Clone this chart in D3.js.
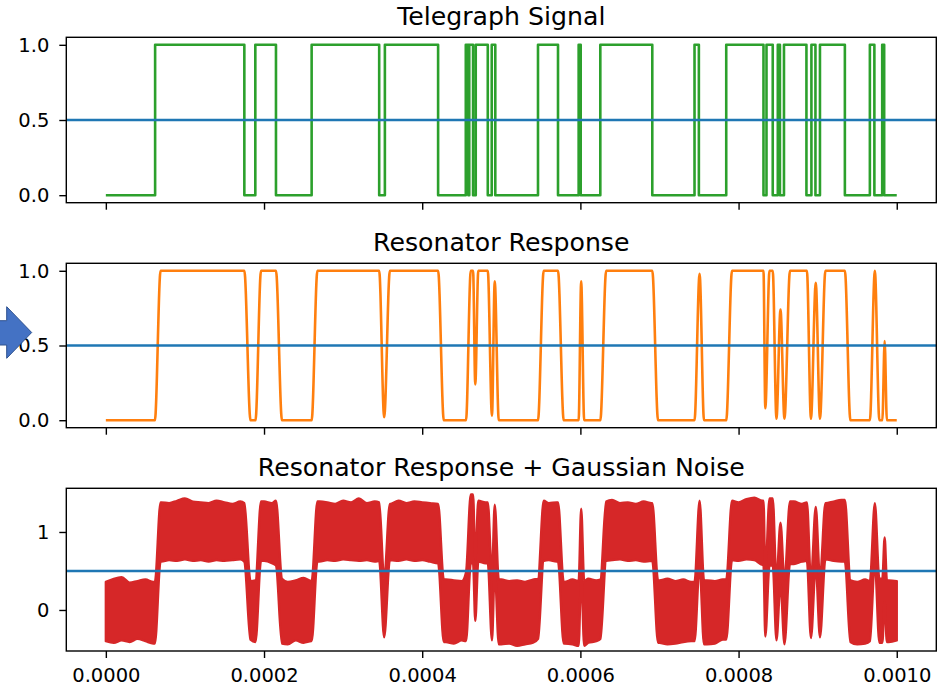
<!DOCTYPE html>
<html><head><meta charset="utf-8">
<script src="https://cdn.jsdelivr.net/npm/d3@7"></script>
<style>
html,body{margin:0;padding:0;background:#fff;}
svg{display:block;font-family:"DejaVu Sans",sans-serif;}
</style></head><body>
<svg id="chart" width="944" height="686"></svg>
<script>
// Telegraph signal: switching instants (µs) and the level held from each instant on
const telegraphTimes = [0, 62.3, 175.1, 189.0, 215.1, 260.2, 345.6, 352.8, 420.1, 455.1, 458.3, 459.5, 464.3, 467.7, 482.9, 487.9, 492.4, 546.4, 571.7, 597.8, 600.4, 625.2, 690.9, 744.3, 749.8, 784.4, 831.5, 835.3, 843.2, 849.6, 852.3, 857.4, 885.8, 892.1, 897.2, 902.9, 934.4, 966.0, 971.7, 981.6, 984.1, 1000];
const telegraphStates = [0,1,0,1,0,1,0,1,0,1,0,1,0,1,0,1,0,1,0,1,0,1,0,1,0,1,0,1,0,1,0,1,0,1,0,1,0,1,0,1,0,0];

// Resonator response: turning points of the smoothed signal (µs, amplitude)
const responseTimes = [0, 62.0, 69.2, 175.1, 182.9, 189.2, 196.2, 215.1, 222.7, 260.2, 267.5, 345.6, 351.9, 359.1, 420.1, 427.3, 455.4, 461.4, 464.3, 467.1, 470.9, 482.9, 488.2, 491.7, 496.8, 546.4, 553.6, 571.7, 578.9, 597.8, 601.0, 604.8, 625.2, 632.6, 690.9, 698.2, 744.3, 750.7, 756.3, 784.4, 791.7, 831.5, 833.8, 839.1, 843.2, 847.9, 853.0, 858.0, 865.0, 886.4, 891.5, 897.6, 902.9, 909.8, 934.4, 941.4, 966.0, 972.3, 978.0, 981.8, 984.7, 987.5, 1000];
const responseValues = [0, 0, 1, 1, 0, 0, 1, 1, 0, 0, 1, 1, 0.02, 1, 1, 0, 0, 1, 1, 0.24, 1, 1, 0.03, 0.93, 0, 0, 1, 1, 0, 0, 0.93, 0, 0, 1, 1, 0, 0, 0.98, 0, 0, 1, 1, 0.08, 1, 1, 0.01, 0.74, 0.01, 1, 1, 0.01, 0.92, 0.01, 1, 1, 0, 0, 1.0, 0, 0, 0.53, 0, 0];

// Gaussian noise envelope around the response, every 10 µs (spread above / below)
const noiseStep = 10;
const noiseAbove = [
  0.36,0.40,0.42,0.35,0.37,0.39,0.36,0.38,0.37,0.40,
  0.43,0.39,0.38,0.37,0.40,0.38,0.36,0.39,0.37,0.38,
  0.39,0.37,0.40,0.36,0.38,0.41,0.37,0.39,0.38,0.36,
  0.40,0.38,0.43,0.37,0.39,0.38,0.36,0.40,0.37,0.39,
  0.38,0.37,0.36,0.39,0.38,0.37,0.48,0.40,0.38,0.42,
  0.39,0.37,0.38,0.36,0.39,0.40,0.37,0.38,0.36,0.39,
  0.37,0.40,0.38,0.39,0.41,0.37,0.38,0.36,0.39,0.37,
  0.38,0.40,0.37,0.39,0.36,0.42,0.38,0.37,0.39,0.40,
  0.38,0.42,0.44,0.40,0.43,0.38,0.37,0.39,0.36,0.38,
  0.40,0.37,0.39,0.41,0.38,0.36,0.39,0.37,0.40,0.38,
  0.37];
const noiseBelow = [
  0.40,0.42,0.39,0.41,0.37,0.40,0.43,0.38,0.36,0.37,
  0.35,0.37,0.36,0.38,0.36,0.37,0.36,0.35,0.38,0.41,
  0.37,0.40,0.43,0.44,0.39,0.42,0.40,0.38,0.36,0.37,
  0.35,0.36,0.37,0.36,0.38,0.37,0.36,0.37,0.35,0.37,
  0.36,0.38,0.40,0.41,0.43,0.39,0.40,0.38,0.40,0.42,
  0.44,0.43,0.46,0.44,0.42,0.37,0.36,0.38,0.43,0.44,
  0.46,0.42,0.40,0.37,0.36,0.35,0.37,0.36,0.38,0.37,
  0.42,0.44,0.43,0.41,0.40,0.42,0.44,0.43,0.38,0.36,
  0.37,0.35,0.36,0.42,0.43,0.40,0.45,0.41,0.38,0.37,
  0.36,0.35,0.37,0.38,0.41,0.44,0.43,0.40,0.42,0.41,
  0.39];

const threshold = 0.5;
const xTicks = [0, 0.0002, 0.0004, 0.0006, 0.0008, 0.0010];
const titles = ["Telegraph Signal", "Resonator Response", "Resonator Response + Gaussian Noise"];
const yTicksTop = [0, 0.5, 1.0];
const yTicksBottom = [0, 1];

const svg = d3.select("#chart");
const left = 66.3, right = 936.3;
const lineW = 2.6;
const panels = [
  {top: 37.3, bottom: 202.7, domain: [-0.05, 1.05], ticks: yTicksTop, fmt: d3.format(".1f")},
  {top: 263.3, bottom: 427.7, domain: [-0.05, 1.05], ticks: yTicksTop, fmt: d3.format(".1f")},
  {top: 488.3, bottom: 651.0, domain: [-0.526, 1.56], ticks: yTicksBottom, fmt: d3.format("d")}
];
const us = 1e-6;
const x = d3.scaleLinear().domain([-0.00005, 0.00105]).range([left, right]);

panels.forEach((p, i) => {
  p.y = d3.scaleLinear().domain(p.domain).range([p.bottom, p.top]);
  p.g = svg.append("g");
  p.g.append("defs").append("clipPath").attr("id", "clip" + i)
    .append("rect").attr("x", left).attr("y", p.top).attr("width", right - left).attr("height", p.bottom - p.top);
  p.plot = p.g.append("g").attr("clip-path", `url(#clip${i})`);
});

// Panel 1: telegraph steps
{
  const p = panels[0];
  const pts = telegraphTimes.map((t, i) => [t * us, telegraphStates[i]]);
  p.plot.append("path")
    .attr("d", d3.line().x(d => x(d[0])).y(d => p.y(d[1])).curve(d3.curveStepAfter)(pts))
    .attr("fill", "none").attr("stroke", "#2ca02c").attr("stroke-width", lineW)
    .attr("stroke-linejoin", "round").attr("stroke-linecap", "butt");
}

// Panel 2: resonator response
{
  const p = panels[1];
  const pts = responseTimes.map((t, i) => [t * us, responseValues[i]]);
  p.plot.append("path")
    .attr("d", d3.line().x(d => x(d[0])).y(d => p.y(d[1])).curve(d3.curveMonotoneX)(pts))
    .attr("fill", "none").attr("stroke", "#ff7f0e").attr("stroke-width", lineW)
    .attr("stroke-linejoin", "round");
}

// Panel 3: response with its noise spread
{
  const p = panels[2];
  const pts = responseTimes.map((t, i) => ({t, v: responseValues[i]}));
  noiseAbove.forEach((_, k) => {
    const t = k * noiseStep;
    const i = d3.bisectRight(responseTimes, t) - 1;
    if (i >= 0 && i < responseTimes.length - 1 && t > responseTimes[i] && t < responseTimes[i + 1]
        && responseValues[i] === responseValues[i + 1]) {
      pts.push({t, v: responseValues[i]});
    }
  });
  pts.sort((a, b) => a.t - b.t);
  const idx = t => Math.min(noiseAbove.length - 1, Math.round(t / noiseStep));
  const area = d3.area()
    .x(d => x(d.t * us))
    .y0(d => p.y(d.v - noiseBelow[idx(d.t)]))
    .y1(d => p.y(d.v + noiseAbove[idx(d.t)]))
    .curve(d3.curveMonotoneX);
  p.plot.append("path").attr("d", area(pts))
    .attr("fill", "#d62728").attr("stroke", "#d62728").attr("stroke-width", 2.4)
    .attr("stroke-linejoin", "round");
}

// threshold line, axes, ticks, titles
panels.forEach((p, i) => {
  p.plot.append("line")
    .attr("x1", left).attr("x2", right)
    .attr("y1", p.y(threshold)).attr("y2", p.y(threshold))
    .attr("stroke", "#1f77b4").attr("stroke-width", lineW);

  const xa = d3.axisBottom(x).tickValues(xTicks).tickSize(7).tickPadding(10)
    .tickFormat(i === 2 ? d3.format(".4f") : () => "");
  const gx = p.g.append("g").attr("transform", `translate(0,${p.bottom})`).call(xa);
  const ya = d3.axisLeft(p.y).tickValues(p.ticks).tickSize(7).tickPadding(10).tickFormat(p.fmt);
  const gy = p.g.append("g").attr("transform", `translate(${left},0)`).call(ya);
  [gx, gy].forEach(g => {
    g.select(".domain").remove();
    g.selectAll(".tick line").attr("stroke", "#000").attr("stroke-width", 1.4);
    g.selectAll(".tick text").attr("fill", "#000").style("font-size", "19.5px")
      .style("font-family", "'DejaVu Sans', sans-serif");
  });

  p.g.append("rect")
    .attr("x", left).attr("y", p.top).attr("width", right - left).attr("height", p.bottom - p.top)
    .attr("fill", "none").attr("stroke", "#000").attr("stroke-width", 1.4);

  p.g.append("text")
    .attr("x", (left + right) / 2).attr("y", p.top - 12.3)
    .attr("text-anchor", "middle").attr("fill", "#000")
    .style("font-size", "25.2px").text(titles[i]);
});

// block arrow at the left edge
svg.append("path")
  .attr("d", "M-2,320.7 L6.7,320.7 L6.7,306.7 L31.7,332.5 L6.7,358.3 L6.7,345 L-2,345 Z")
  .attr("fill", "#4472c4").attr("stroke", "#2f528f").attr("stroke-width", 1);
</script>
</body></html>
